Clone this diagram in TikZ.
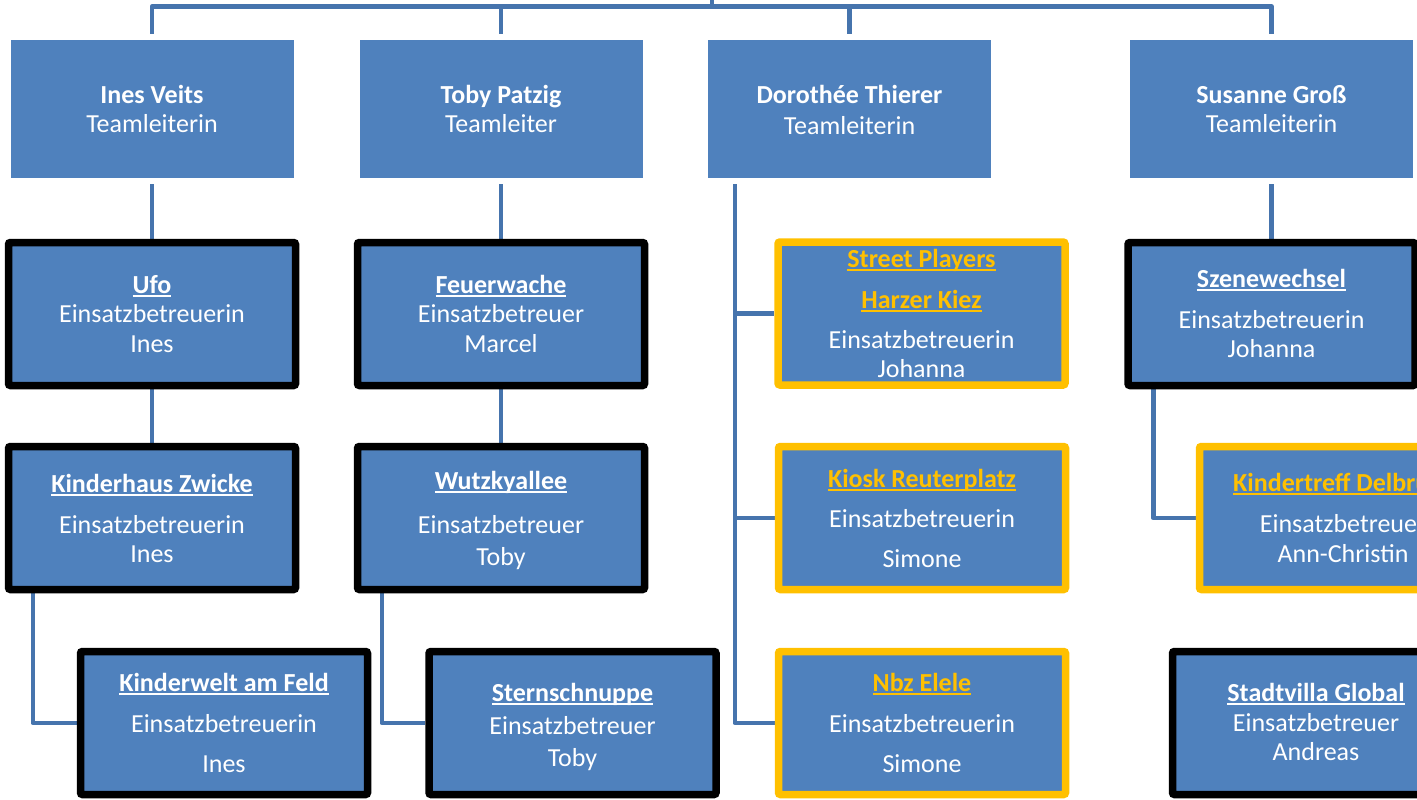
\documentclass[tikz,border=0pt]{standalone}
\usepackage{fontspec}
\setmainfont{Carlito}
\newcommand{\myul}[1]{\leavevmode\setbox0\hbox{#1}\rlap{\rule[-3.8pt]{\wd0}{1.7pt}}\box0}
\usetikzlibrary{calc}
\pgfdeclarelayer{background}
\pgfsetlayers{background,main}
\definecolor{boxblue}{HTML}{4F81BD}
\definecolor{linkblue}{HTML}{4674AD}
\definecolor{gold}{HTML}{FFC000}
\tikzset{
  topbox/.style={fill=boxblue, draw=none, minimum width=283pt, minimum height=138pt, inner sep=0pt},
  blackbox/.style={fill=boxblue, draw=black, line width=7.5pt, rounded corners=2pt, minimum width=287pt, minimum height=143pt, inner sep=0pt},
  goldbox/.style={blackbox, draw=gold},
  txt/.style={text=white, font=\fontsize{26}{30}\selectfont, anchor=base, inner sep=0pt, yshift=-9pt},
  ttl/.style={txt, font=\fontsize{26}{30}\selectfont\bfseries},
  gttl/.style={ttl, text=gold},
  conn/.style={draw=linkblue, line width=4.5pt, line join=round}
}
\begin{document}
\begin{tikzpicture}[x=1pt, y=-1pt]
\clip (0,0) rectangle (1417,800);
\useasboundingbox (0,0) rectangle (1417,800);

% Team leaders
\node[topbox] (ines) at (152,109) {};
\node[topbox] (toby) at (501,109) {};
\node[topbox] (doro) at (849.5,109) {};
\node[topbox] (sus) at (1271.5,109) {};
\node[ttl] (ines-n) at (152,94) {Ines Veits};
\node[txt] (ines-r) at (152,123) {Teamleiterin};
\node[ttl] (toby-n) at (501,94) {Toby Patzig};
\node[txt] (toby-r) at (501,123) {Teamleiter};
\node[ttl] (doro-n) at (849.5,94) {Dorothée Thierer};
\node[txt] (doro-r) at (849.5,125) {Teamleiterin};
\node[ttl] (sus-n) at (1271.5,94) {Susanne Groß};
\node[txt] (sus-r) at (1271.5,123) {Teamleiterin};

% Level 2
\node[blackbox] (ufo) at (152,314) {};
\node[blackbox] (feuer) at (501,314) {};
\node[goldbox] (street) at (921.5,313.5) {};
\node[blackbox] (szene) at (1271.5,314) {};

\node[ttl] (ufo-1) at (152,284) {\myul{Ufo}};
\node[txt] (ufo-2) at (152,313) {Einsatzbetreuerin};
\node[txt] (ufo-3) at (152,343) {Ines};

\node[ttl] (feuer-1) at (501,284) {\myul{Feuerwache}};
\node[txt] (feuer-2) at (501,313) {Einsatzbetreuer};
\node[txt] (feuer-3) at (501,343) {Marcel};

\node[gttl] (street-1) at (921.5,258) {\myul{Street Players}};
\node[gttl] (street-2) at (921.5,299) {\myul{Harzer Kiez}};
\node[txt] (street-3) at (921.5,339) {Einsatzbetreuerin};
\node[txt] (street-4) at (921.5,368) {Johanna};

\node[ttl] (szene-1) at (1271.5,278) {\myul{Szenewechsel}};
\node[txt] (szene-2) at (1271.5,319) {Einsatzbetreuerin};
\node[txt] (szene-3) at (1271.5,348) {Johanna};

% Level 3
\node[blackbox] (zwicke) at (152,518) {};
\node[blackbox] (wutz) at (501,518) {};
\node[goldbox] (kiosk) at (922,518) {};
\node[goldbox] (delb) at (1343,518) {};

\node[ttl] (zwicke-1) at (152,483) {\myul{Kinderhaus Zwicke}};
\node[txt] (zwicke-2) at (152,524) {Einsatzbetreuerin};
\node[txt] (zwicke-3) at (152,553) {Ines};

\node[ttl] (wutz-1) at (501,480) {\myul{Wutzkyallee}};
\node[txt] (wutz-2) at (501,524) {Einsatzbetreuer};
\node[txt] (wutz-3) at (501,556) {Toby};

\node[gttl] (kiosk-1) at (922,478) {\myul{Kiosk Reuterplatz}};
\node[txt] (kiosk-2) at (922,518) {Einsatzbetreuerin};
\node[txt] (kiosk-3) at (922,558) {Simone};

\node[gttl] (delb-1) at (1343,482) {\myul{Kindertreff Delbrück}};
\node[txt] (delb-2) at (1343,523) {Einsatzbetreuer};
\node[txt] (delb-3) at (1343,553) {Ann-Christin};

% Level 4
\node[blackbox] (feld) at (224,723) {};
\node[blackbox] (stern) at (572.5,723) {};
\node[goldbox] (nbz) at (922,723) {};
\node[blackbox] (villa) at (1316,723) {};

\node[ttl] (feld-1) at (224,682) {\myul{Kinderwelt am Feld}};
\node[txt] (feld-2) at (224,723) {Einsatzbetreuerin};
\node[txt] (feld-3) at (224,763) {Ines};

\node[ttl] (stern-1) at (572.5,692) {\myul{Sternschnuppe}};
\node[txt] (stern-2) at (572.5,725) {Einsatzbetreuer};
\node[txt] (stern-3) at (572.5,757) {Toby};

\node[gttl] (nbz-1) at (922,682) {\myul{Nbz Elele}};
\node[txt] (nbz-2) at (922,723) {Einsatzbetreuerin};
\node[txt] (nbz-3) at (922,763) {Simone};

\node[ttl] (villa-1) at (1316,692) {\myul{Stadtvilla Global}};
\node[txt] (villa-2) at (1316,722) {Einsatzbetreuer};
\node[txt] (villa-3) at (1316,751) {Andreas};

% Connectors
\coordinate (top) at (712,-5);
\coordinate (bus) at (712,6.5);
\coordinate (dtrunk) at ($(doro.south west)+(27,0)$);
\begin{pgfonlayer}{background}
\draw[conn] (top) -- (bus);
\draw[conn, shorten >=6pt] (bus) -| (ines.north);
\draw[conn, shorten >=6pt] (bus) -| (toby.north);
\draw[conn, shorten >=6pt] (bus) -| (doro.north);
\draw[conn, shorten >=6pt] (bus) -| (sus.north);

\draw[conn, shorten <=6pt] (ines.south) -- (ufo.north);
\draw[conn] (ufo.south) -- (zwicke.north);
\draw[conn] ($(zwicke.south west)+(28,0)$) |- (feld.west);

\draw[conn, shorten <=6pt] (toby.south) -- (feuer.north);
\draw[conn] (feuer.south) -- (wutz.north);
\draw[conn] ($(wutz.south west)+(28,0)$) |- (stern.west);

\draw[conn, shorten <=6pt] (dtrunk) |- (nbz.west);
\draw[conn] (dtrunk |- street.west) -- (street.west);
\draw[conn] (dtrunk |- kiosk.west) -- (kiosk.west);

\draw[conn, shorten <=6pt] (sus.south) -- (szene.north);
\draw[conn] ($(szene.south west)+(29,0)$) |- (delb.west);
\end{pgfonlayer}
\end{tikzpicture}
\end{document}
